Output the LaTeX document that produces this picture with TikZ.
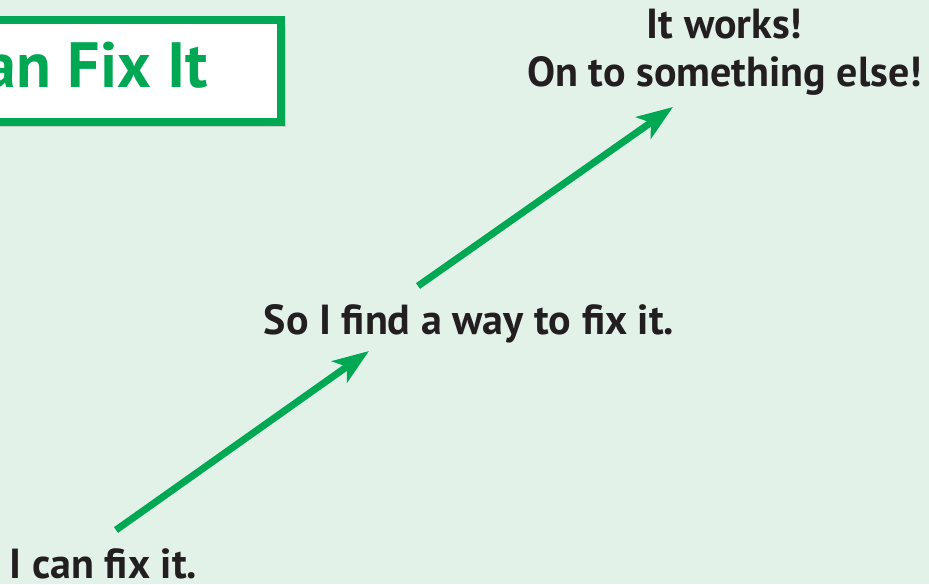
\documentclass[tikz,border=0pt]{standalone}
\usepackage{fontspec}
\setmainfont{PT Sans}
\usetikzlibrary{arrows.meta,shadows}
\definecolor{bg}{RGB}{227,242,232}
\definecolor{fixgreen}{RGB}{0,168,84}
\definecolor{ink}{RGB}{35,31,32}
\tikzset{
  lbl/.style={font=\fontsize{42}{50}\selectfont\bfseries, text=ink, inner sep=0pt, align=center},
  arr/.style={draw=fixgreen, line width=7pt, -{Stealth[length=36pt,width=26pt,inset=9pt]}},
}
\begin{document}
\begin{tikzpicture}[x=1pt,y=-1pt]
\fill[bg] (0,0) rectangle (929,584);
\useasboundingbox (0,0) rectangle (929,584);
% title box
\node[draw=fixgreen, line width=8pt, fill=white, minimum width=297pt, minimum height=102pt, anchor=north west,
      drop shadow={shadow xshift=5pt, shadow yshift=-5pt, opacity=0.22, fill=black!60}] (tbox) at (-20,16) {};
\node[anchor=base east, inner sep=0pt, text=fixgreen, font=\fontsize{64}{70}\selectfont\bfseries] (title) at (208,87) {an Fix It};
% labels
\node[lbl, anchor=base] (n1) at (103.5,578) {I can fix it.};
\node[lbl, anchor=base] (n2) at (469,334) {So I find a way to fix it.};
\node[lbl, anchor=base] (n3a) at (724.5,38) {It works!};
\node[lbl, anchor=base] (n3b) at (724.5,86) {On to something else!};
% arrows
\coordinate (a1s) at (116,530);
\coordinate (a1e) at (369,351);
\coordinate (a2s) at (418,286);
\coordinate (a2e) at (673,107);
\draw[arr] (a1s) -- (a1e);
\draw[arr] (a2s) -- (a2e);
\end{tikzpicture}
\end{document}
